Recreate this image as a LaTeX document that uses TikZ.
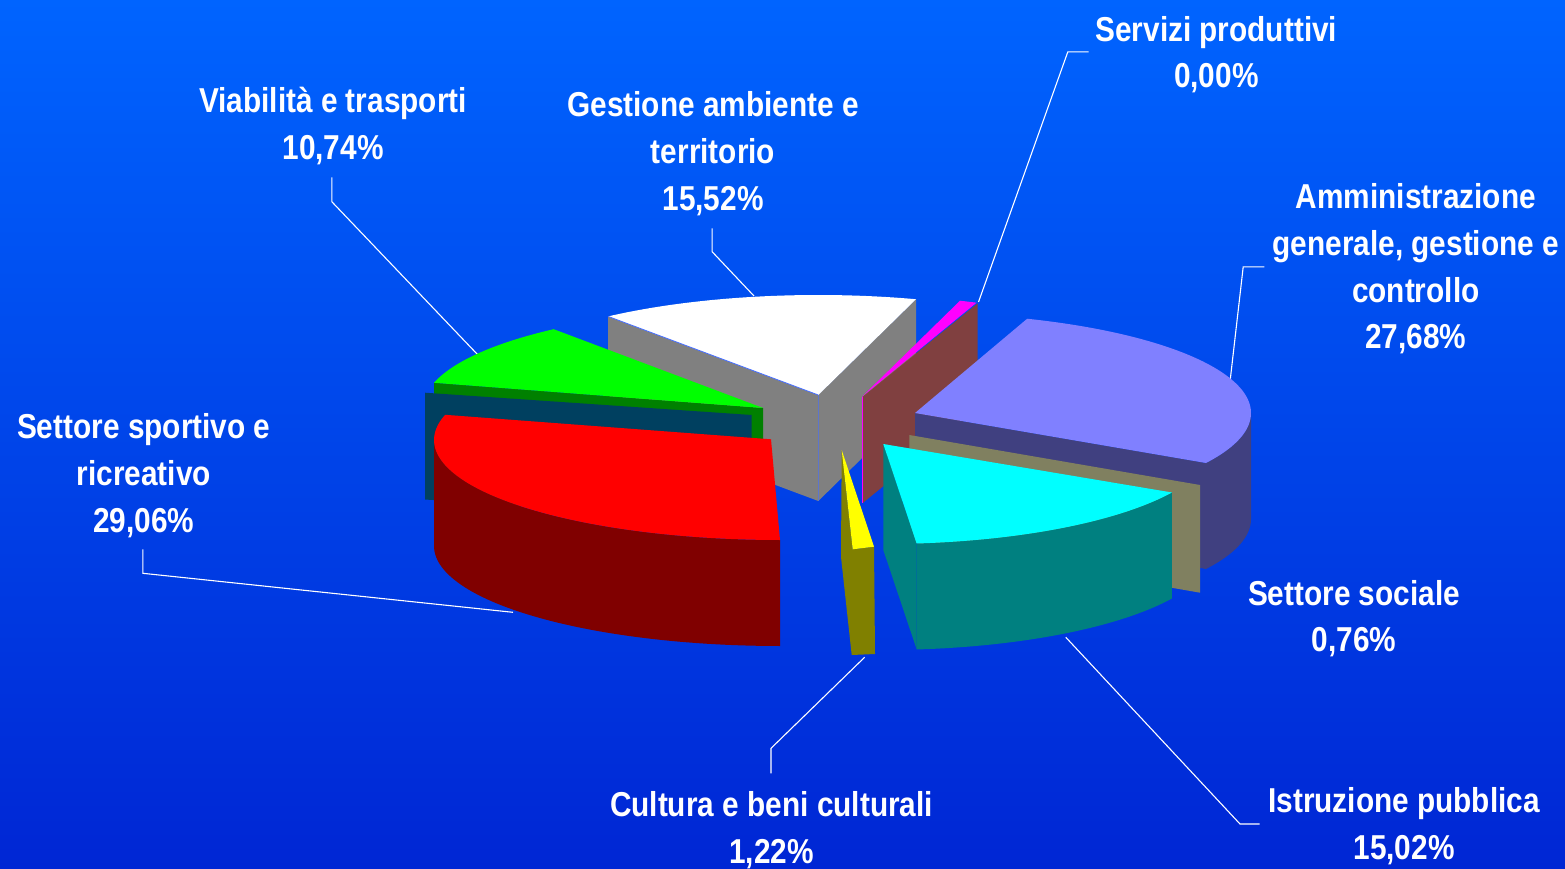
\documentclass[tikz,border=0pt]{standalone}
\usepackage{fontspec}
\setmainfont{Liberation Sans}
\usepackage{graphicx}
\definecolor{bgtop}{RGB}{0,100,255}
\definecolor{bgbot}{RGB}{0,38,212}
\definecolor{cRed}{RGB}{255,0,0}
\definecolor{cRedD}{RGB}{128,0,0}
\definecolor{cGreen}{RGB}{0,255,0}
\definecolor{cGreenD}{RGB}{0,128,0}
\definecolor{cNavy}{RGB}{0,64,96}
\definecolor{cGray}{RGB}{128,128,128}
\definecolor{cMag}{RGB}{255,0,255}
\definecolor{cBrown}{RGB}{128,64,64}
\definecolor{cPurple}{RGB}{128,128,255}
\definecolor{cPurpleD}{RGB}{64,64,128}
\definecolor{cKhaki}{RGB}{128,128,96}
\definecolor{cCyan}{RGB}{0,255,255}
\definecolor{cTeal}{RGB}{0,128,128}
\definecolor{cYellow}{RGB}{255,255,0}
\definecolor{cOlive}{RGB}{128,128,0}
\definecolor{cEdge}{RGB}{70,110,255}
\newcommand\vln[1]{\scalebox{1}[1.16]{\rule{0pt}{24pt}#1}}
\begin{document}
\begin{tikzpicture}[x=1pt,y=-1pt,
  lbl/.style={text=white, font=\fontsize{29.8}{46.8}\selectfont\bfseries, align=center, inner sep=0pt, anchor=north},
  lead/.style={draw=white, line width=1.1pt},
  edge/.style={draw=cEdge, line width=0.8pt}]
\useasboundingbox (0,0) rectangle (1565,869);
\shade[top color=bgtop, bottom color=bgbot] (0,0) rectangle (1565,869);

% labels
\node[lbl] (serv) at (1216.3,13) {\vln{Servizi produttivi}\\\vln{0,00\%}};
\node[lbl] (viab) at (333,84.9) {\vln{Viabilità e trasporti}\\\vln{10,74\%}};
\node[lbl] (gest) at (713,88.9) {\vln{Gestione ambiente e}\\\vln{territorio}\\\vln{15,52\%}};
\node[lbl] (amm) at (1415.8,180.4) {\vln{Amministrazione}\\\vln{generale, gestione e}\\\vln{controllo}\\\vln{27,68\%}};
\node[lbl] (sport) at (143.8,410.5) {\vln{Settore sportivo e}\\\vln{ricreativo}\\\vln{29,06\%}};
\node[lbl] (soc) at (1354,577) {\vln{Settore sociale}\\\vln{0,76\%}};
\node[lbl] (cult) at (771.5,788.9) {\vln{Cultura e beni culturali}\\\vln{1,22\%}};
\node[lbl] (istr) at (1404,784.9) {\vln{Istruzione pubblica}\\\vln{15,02\%}};

% leader line points
\coordinate (sv1) at (1088.5,51.9); \coordinate (sv2) at (1067.8,51.9); \coordinate (sv3) at (978.5,302);
\coordinate (vb1) at (331.8,177.3); \coordinate (vb2) at (331.8,201.7); \coordinate (vb3) at (478,355);
\coordinate (ge1) at (712.1,228.3); \coordinate (ge2) at (712.1,251.7); \coordinate (ge3) at (754,296);
\coordinate (am1) at (1264.3,266.8); \coordinate (am2) at (1243.2,266.8); \coordinate (am3) at (1230.2,380);
\coordinate (sp1) at (142.9,549.3); \coordinate (sp2) at (142.9,573.3); \coordinate (sp3) at (513,612.3);
\coordinate (cu1) at (771,773.3); \coordinate (cu2) at (771,748.3); \coordinate (cu3) at (864.6,657.3);
\coordinate (is1) at (1065.8,637.3); \coordinate (is2) at (1240,824); \coordinate (is3) at (1259.7,824);
\draw[lead] (sv1) -- (sv2) -- (sv3);
\draw[lead] (vb1) -- (vb2) -- (vb3);
\draw[lead] (ge1) -- (ge2) -- (ge3);
\draw[lead] (am1) -- (am2) -- (am3);
\draw[lead] (sp1) -- (sp2) -- (sp3);
\draw[lead] (cu1) -- (cu2) -- (cu3);
\draw[lead] (is1) -- (is2) -- (is3);

% white slice (Gestione ambiente e territorio)
\fill[cGray] (608.1,316.4) -- (818.3,395) -- (818.3,501) -- (608.1,422.4) -- cycle;
\fill[cGray] (818.3,395) -- (916,299.2) -- (916,405.2) -- (818.3,501) -- cycle;
\fill[white] (818.3,395) -- plot[domain=73.3:128.2, samples=60, variable=\t] ({818.3+340*cos(\t)},{395-100*sin(\t)}) -- cycle;
\draw[edge] (608.1,316.4) -- (818.3,395);
\draw[draw=cEdge!60!cGray, line width=0.6pt] (818.3,395) -- (818.3,501);

% brown plane and magenta sliver (Servizi produttivi)
\fill[cBrown] (977.7,303.3) -- (862.7,396.7) -- (862.7,503) -- (977.7,409.3) -- cycle;
\fill[cMag] (960,300.7) -- (976.5,302.7) -- (862,396.7) -- cycle;
\draw[cMag, line width=0.8pt] (862.5,397) -- (862.5,503);

% green slice (Viabilita)
\fill[cGreenD] (434,382.8) -- (763,408) -- (763,514) -- (434,488.8) -- cycle;
\fill[cGreen] (763,408) -- plot[domain=128:165.4, samples=50, variable=\t] ({763+340*cos(\t)},{408-100*sin(\t)}) -- cycle;

% navy plane
\fill[cNavy] (425,392.7) -- (751.7,415) -- (751.7,521) -- (425,499.5) -- cycle;

% red slice (Settore sportivo)
\fill[cRedD] plot[domain=180:270, samples=60, variable=\t] ({780+346*cos(\t)},{440-100*sin(\t)})
  -- plot[domain=270:180, samples=60, variable=\t] ({780+346*cos(\t)},{546-100*sin(\t)}) -- cycle;
\fill[cRed] (771,439.3) -- plot[domain=165.4:270, samples=80, variable=\t] ({780+346*cos(\t)},{440-100*sin(\t)}) -- cycle;

% purple slice (Amministrazione)
\fill[cPurpleD] (915,413) -- plot[domain=-30:0, samples=40, variable=\t] ({915+336*cos(\t)},{413-100*sin(\t)})
  -- plot[domain=0:-30, samples=40, variable=\t] ({915+336*cos(\t)},{519-100*sin(\t)}) -- (915,519) -- cycle;
\fill[cPurple] (915,413) -- plot[domain=-30:70.5, samples=80, variable=\t] ({915+336*cos(\t)},{413-100*sin(\t)}) -- cycle;

% khaki plane (Settore sociale)
\fill[cKhaki] (909.3,435) -- (1200,485) -- (1200,592.7) -- (909.3,542) -- cycle;

% cyan slice (Istruzione)
\fill[cTeal] (883.3,444) -- (916.7,543.5) -- (916.7,649.5) -- (883.3,550) -- cycle;
\fill[cTeal] plot[domain=-84.2:-29, samples=60, variable=\t] ({883.3+330*cos(\t)},{444-100*sin(\t)})
  -- plot[domain=-29:-84.2, samples=60, variable=\t] ({883.3+330*cos(\t)},{550-100*sin(\t)}) -- cycle;
\fill[cCyan] (883.3,444) -- plot[domain=-84.2:-29, samples=60, variable=\t] ({883.3+330*cos(\t)},{444-100*sin(\t)}) -- cycle;

% yellow slice (Cultura)
\fill[cOlive] (841.7,450) -- (852.7,549.3) -- (874,546.7) -- (875,654) -- (851.7,655) -- (841,557) -- cycle;
\fill[cYellow] (841.7,450) -- (874,546.7) -- (852.7,549.3) -- cycle;
\end{tikzpicture}
\end{document}
